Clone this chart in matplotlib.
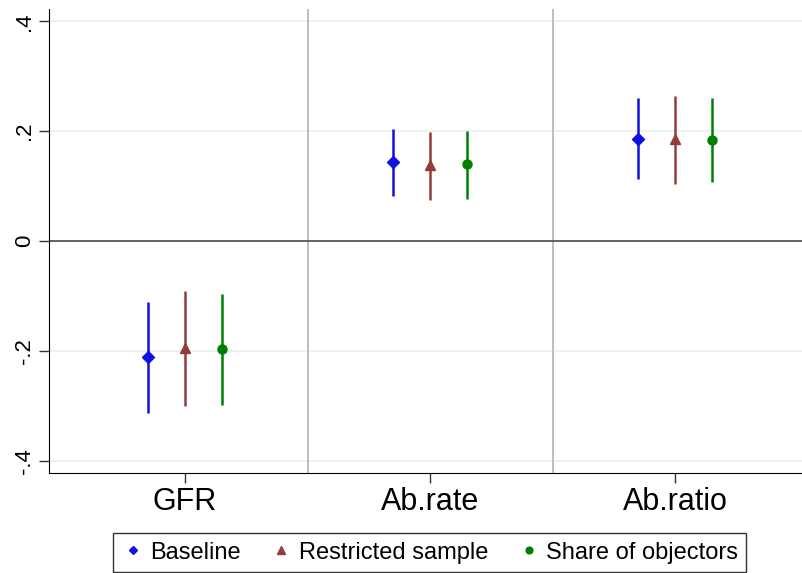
import numpy as np
import matplotlib.pyplot as plt

plt.rcParams['font.family'] = ['Liberation Sans', 'DejaVu Sans']

# outcomes and estimates (point, lower CI, upper CI) per specification
outcomes = ["GFR", "Ab.rate", "Ab.ratio"]
series = ["Baseline", "Restricted sample", "Share of objectors"]

baseline_est = [-0.211, 0.144, 0.185]
baseline_lo = [-0.313, 0.082, 0.113]
baseline_hi = [-0.111, 0.205, 0.260]

restricted_est = [-0.195, 0.138, 0.186]
restricted_lo = [-0.300, 0.075, 0.104]
restricted_hi = [-0.091, 0.198, 0.264]

objectors_est = [-0.196, 0.140, 0.184]
objectors_lo = [-0.298, 0.076, 0.107]
objectors_hi = [-0.096, 0.200, 0.260]

fig = plt.figure(figsize=(8.03, 5.73), dpi=100)
ax = fig.add_axes([0.061, 0.174, 0.938, 0.81])

styles = [
    ("#1010e0", "D", 6, baseline_est, baseline_lo, baseline_hi),
    ("#943c3c", "^", 7.5, restricted_est, restricted_lo, restricted_hi),
    ("#008000", "o", 6.5, objectors_est, objectors_lo, objectors_hi),
]
offsets = [-0.151, 0.0, 0.151]
x = np.arange(1, len(outcomes) + 1)

for (col, mk, ms, est, lo, hi), off, name in zip(styles, offsets, series):
    xs = x + off
    ax.vlines(xs, lo, hi, color=col, lw=1.8, zorder=3)
    ax.plot(xs, est, ls="none", marker=mk, ms=ms, color=col, zorder=4, label=name)

# grid and reference lines
for yv in [-0.4, -0.2, 0.2, 0.4]:
    ax.axhline(yv, color="#e8f0f0", lw=1.2, zorder=1)
ax.axhline(0, color="#555555", lw=1.3, zorder=2)
for xv in [1.5, 2.5]:
    ax.axvline(xv, color="#b8b8b8", lw=1.3, zorder=1)

ax.set_xlim(0.445, 3.518)
ax.set_ylim(-0.422, 0.422)
ax.set_xticks(x)
ax.set_xticklabels(outcomes, fontsize=22)
ax.set_yticks([-0.4, -0.2, 0, 0.2, 0.4])
ax.set_yticklabels(["-.4", "-.2", "0", ".2", ".4"], fontsize=16, rotation=90, va="center")
ax.tick_params(axis="both", length=7, width=1, color="#333333")
ax.tick_params(axis="x", pad=3)
ax.tick_params(axis="y", pad=3)
ax.spines["top"].set_visible(False)
ax.spines["right"].set_visible(False)

leg = fig.legend(loc="lower center", bbox_to_anchor=(0.535, 0.002), ncol=3, fontsize=17,
                 frameon=True, fancybox=False, edgecolor="black", handletextpad=0.25,
                 columnspacing=1.2, handlelength=1.0, borderpad=0.35, markerscale=0.75,
                 borderaxespad=0)
leg.get_frame().set_linewidth(1)

fig.savefig("out.png", dpi=100)
